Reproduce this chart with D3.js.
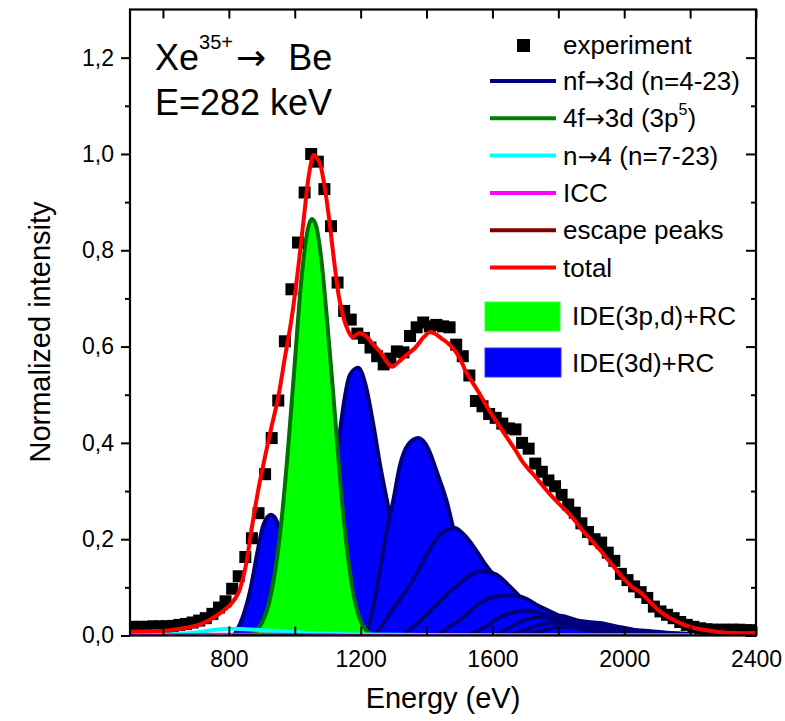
<!DOCTYPE html>
<html>
<head>
<meta charset="utf-8">
<script src="https://cdn.jsdelivr.net/npm/d3@7"></script>
<style>
  html, body { margin: 0; padding: 0; background: #fff; }
  svg { display: block; font-family: "Liberation Sans", Arial, sans-serif; }
  .arrow { font-family: "DejaVu Sans", sans-serif; }
</style>
</head>
<body>
<svg id="chart" width="785" height="721"></svg>
<script>
// ---- measured spectrum (normalized) ----
const expEnergy = [510,530,550,570,590,610,630,650,670,690,710,730,750,770,790,810,830,850,870,890,
  910,930,950,970,990,1010,1030,1050,1070,1090,1110,1130,1150,1170,1190,1210,1230,1250,1270,1290,
  1310,1330,1350,1370,1390,1410,1430,1450,1470,1490,1510,1530,1550,1570,1590,1610,1630,1650,1670,1690,
  1710,1730,1750,1770,1790,1810,1830,1850,1870,1890,1910,1930,1950,1970,1990,2010,2030,2050,2070,2090,
  2110,2130,2150,2170,2190,2210,2230,2250,2270,2290,2310,2330,2350,2370,2390];
const expIntensity = [0.018,0.018,0.018,0.019,0.019,0.019,0.020,0.022,0.024,0.027,0.031,0.036,0.045,0.058,0.071,0.097,0.123,0.163,0.202,0.254,
  0.335,0.410,0.488,0.611,0.719,0.816,0.920,1.000,0.984,0.927,0.850,0.733,0.674,0.656,0.627,0.618,0.598,0.580,0.563,0.575,
  0.590,0.588,0.622,0.640,0.650,0.642,0.645,0.642,0.640,0.604,0.580,0.540,0.487,0.476,0.460,0.452,0.440,0.430,0.428,0.400,
  0.388,0.357,0.340,0.322,0.310,0.292,0.272,0.255,0.233,0.215,0.200,0.193,0.172,0.155,0.128,0.115,0.102,0.090,0.078,0.060,
  0.050,0.043,0.036,0.028,0.022,0.018,0.015,0.013,0.012,0.012,0.012,0.012,0.012,0.011,0.011];

// ---- total fitted spectrum ----
const totalFit = [[500,0.008],[560,0.009],[620,0.011],[680,0.017],[720,0.025],[760,0.040],[790,0.055],[810,0.068],
  [830,0.090],[850,0.140],[870,0.225],[890,0.305],[910,0.372],[930,0.435],[950,0.495],[970,0.577],[990,0.656],
  [1010,0.760],[1030,0.882],[1045,0.965],[1058,0.998],[1075,0.982],[1090,0.935],[1105,0.862],[1120,0.775],
  [1135,0.700],[1155,0.645],[1175,0.620],[1195,0.628],[1215,0.622],[1240,0.603],[1260,0.588],[1280,0.568],
  [1295,0.558],[1315,0.568],[1340,0.583],[1365,0.597],[1392,0.620],[1410,0.630],[1425,0.627],[1445,0.617],
  [1465,0.607],[1485,0.593],[1505,0.570],[1520,0.547],[1540,0.525],[1560,0.503],[1590,0.468],[1620,0.436],
  [1650,0.405],[1670,0.385],[1690,0.362],[1710,0.345],[1730,0.330],[1750,0.313],[1775,0.293],[1800,0.275],
  [1835,0.251],[1860,0.230],[1876,0.216],[1900,0.198],[1926,0.178],[1950,0.158],[1975,0.137],[2000,0.117],
  [2025,0.100],[2050,0.089],[2075,0.072],[2100,0.055],[2125,0.042],[2150,0.032],[2175,0.024],[2200,0.018],
  [2240,0.012],[2280,0.008],[2340,0.005],[2400,0.005]];

// ---- 4f->3d (3p^5) component, IDE(3p,d)+RC ----
const peak4f3d = [[860,0.000],[880,0.008],[900,0.026],[920,0.062],[940,0.132],[960,0.240],[980,0.390],[1000,0.565],
  [1020,0.738],[1040,0.845],[1052,0.865],[1065,0.850],[1080,0.785],[1100,0.640],[1120,0.475],[1140,0.305],
  [1160,0.172],[1180,0.080],[1200,0.030],[1220,0.008],[1240,0.000]];

// ---- nf->3d components, IDE(3d)+RC ----
const highNTail = [[1600,0.000],[1700,0.022],[1760,0.042],[1805,0.042],[1866,0.031],[1926,0.027],[1977,0.020],
  [2028,0.013],[2080,0.010],[2129,0.007],[2180,0.005],[2230,0.003],[2300,0.001],[2400,0.000]];
const peakA = [[815,0.000],[833,0.022],[850,0.055],[864,0.091],[889,0.181],[905,0.230],[928,0.251],[950,0.230],
  [970,0.175],[990,0.110],[1010,0.055],[1030,0.020],[1050,0.000]];
const peakB = [[1040,0.000],[1060,0.020],[1080,0.070],[1100,0.160],[1115,0.265],[1132,0.390],[1147,0.473],
  [1168,0.542],[1193,0.556],[1215,0.520],[1238,0.440],[1260,0.350],[1280,0.280],[1300,0.210],[1320,0.140],
  [1340,0.085],[1360,0.045],[1380,0.020],[1400,0.005],[1420,0.000]];
const peakC = [[1200,0.000],[1218,0.008],[1249,0.098],[1279,0.216],[1299,0.280],[1319,0.352],[1345,0.397],
  [1375,0.410],[1405,0.388],[1431,0.340],[1461,0.279],[1481,0.223],[1500,0.170],[1520,0.120],[1540,0.080],
  [1560,0.050],[1580,0.030],[1600,0.015],[1620,0.005],[1640,0.000]];
const peakD = [[1240,0.000],[1270,0.025],[1299,0.057],[1325,0.080],[1350,0.105],[1375,0.135],[1400,0.168],
  [1420,0.190],[1441,0.209],[1465,0.220],[1486,0.223],[1510,0.212],[1532,0.195],[1552,0.175],[1572,0.154],
  [1598,0.130],[1620,0.108],[1640,0.085],[1660,0.060],[1680,0.040],[1700,0.025],[1720,0.012],[1740,0.004],[1760,0.000]];
const peakE = [[1330,0.000],[1400,0.043],[1471,0.091],[1522,0.119],[1557,0.133],[1585,0.132],[1613,0.126],
  [1648,0.105],[1673,0.088],[1700,0.068],[1730,0.048],[1760,0.030],[1800,0.012],[1840,0.000]];
const peakF = [[1430,0.000],[1502,0.033],[1582,0.075],[1643,0.083],[1683,0.081],[1744,0.060],[1805,0.040],
  [1850,0.025],[1900,0.012],[1950,0.000]];
const peakG = [[1522,0.000],[1570,0.015],[1623,0.038],[1665,0.048],[1704,0.052],[1764,0.042],[1820,0.028],
  [1880,0.015],[1950,0.005],[2000,0.000]];
const peakH = [[1603,0.000],[1650,0.015],[1694,0.031],[1744,0.038],[1790,0.033],[1850,0.020],[1920,0.008],[2000,0.000]];
const peakI = [[1650,0.000],[1700,0.012],[1745,0.022],[1780,0.027],[1830,0.022],[1900,0.010],[1980,0.000]];
const peakJ = [[1690,0.000],[1740,0.008],[1790,0.016],[1830,0.018],[1880,0.012],[1950,0.004],[2000,0.000]];

// ---- small background components ----
const nTo4 = [[500,0.001],[600,0.002],[700,0.006],[760,0.012],[800,0.014],[850,0.013],[900,0.011],[950,0.009],
  [1000,0.007],[1100,0.004],[1200,0.002],[1400,0.001],[2400,0.000]];
const iccLine = [[500,0.002],[650,0.003],[750,0.004],[850,0.004],[950,0.004],[1050,0.003],[1150,0.002],[1300,0.001],[2400,0.000]];
const escapePeaks = [[500,0.000],[900,0.000],[1000,0.001],[1100,0.002],[1200,0.001],[1300,0.000],[2400,0.000]];

// ---- axes ----
const xMajorTicks = [800,1200,1600,2000,2400];
const xMinorTicks = [600,1000,1400,1800,2200];
const yMajorTicks = [0,0.2,0.4,0.6,0.8,1.0,1.2];
const yMinorTicks = [0.1,0.3,0.5,0.7,0.9,1.1];

// legend rows: [before arrow, after arrow] text pieces
const legendItems = [
  {pre: "nf", post: "3d (n=4-23)", color: "#000080"},
  {pre: "4f", post: "3d (3p", sup: "5", tail: ")", color: "#008000"},
  {pre: "n", post: "4 (n=7-23)", color: "#00ffff"},
  {pre: "ICC", color: "#ff00ff"},
  {pre: "escape peaks", color: "#800000"},
  {pre: "total", color: "#ff0000"}
];

const svg = d3.select("#chart");
const L = 130, R = 756, T = 9.5, B = 635.5;
const x = d3.scaleLinear().domain([500, 2400]).range([L, R]);
const y = d3.scaleLinear().domain([0, 1.3]).range([B, T]);

svg.append("defs").append("clipPath").attr("id", "plotClip")
  .append("rect").attr("x", L).attr("y", T).attr("width", R - L).attr("height", B - T);
const plot = svg.append("g").attr("clip-path", "url(#plotClip)");

const area = d3.area().x(d => x(d[0])).y0(y(0)).y1(d => y(d[1])).curve(d3.curveMonotoneX);
const line = d3.line().x(d => x(d[0])).y(d => y(d[1])).curve(d3.curveMonotoneX);
const smooth = d3.line().x(d => x(d[0])).y(d => y(d[1])).curve(d3.curveCatmullRom.alpha(0.5));

// nf->3d: high-n convergence tail first, then individual peaks, later ones on top
plot.append("path").datum(highNTail).attr("d", area)
  .attr("fill", "#00007a").attr("stroke", "#000080").attr("stroke-width", 3);
[peakA, peakB, peakC, peakD, peakE, peakF, peakG, peakH, peakI, peakJ].forEach(pk => {
  plot.append("path").datum(pk).attr("d", area)
    .attr("fill", "#0000ff").attr("stroke", "#00007a").attr("stroke-width", 4)
    .attr("stroke-linejoin", "round");
});

// 4f->3d peak
plot.append("path").datum(peak4f3d).attr("d", area)
  .attr("fill", "#00ff00").attr("stroke", "#007000").attr("stroke-width", 4);

// background lines
plot.append("path").datum(nTo4).attr("d", line)
  .attr("fill", "none").attr("stroke", "#00ffff").attr("stroke-width", 4);
plot.append("path").datum(escapePeaks).attr("d", line)
  .attr("fill", "none").attr("stroke", "#800000").attr("stroke-width", 1.5);
plot.append("path").datum(iccLine).attr("d", line)
  .attr("fill", "none").attr("stroke", "#ff00ff").attr("stroke-width", 1.5);

// experimental points
const sq = 12;
plot.append("g").selectAll("rect").data(expEnergy).join("rect")
  .attr("x", (d) => x(d) - sq / 2)
  .attr("y", (d, i) => y(expIntensity[i]) - sq / 2)
  .attr("width", sq).attr("height", sq).attr("fill", "#000");

// total fit
plot.append("path").datum(totalFit).attr("d", smooth)
  .attr("fill", "none").attr("stroke", "#ff0000").attr("stroke-width", 4)
  .attr("stroke-linejoin", "round");

// ---- frame and ticks ----
const fmt = d => d3.format(".1f")(d).replace(".", ",");
const axisStyle = g => {
  g.select(".domain").remove();
  g.selectAll(".tick line").attr("stroke", "#000").attr("stroke-width", 2);
  g.selectAll(".tick text").attr("font-size", 23).attr("fill", "#000")
    .attr("font-family", "'Liberation Sans', Arial, sans-serif");
};

// left axis: outward ticks, labelled
svg.append("g").attr("transform", `translate(${L},0)`)
  .call(d3.axisLeft(y).tickValues(yMajorTicks).tickSize(9).tickPadding(7).tickFormat(fmt))
  .call(axisStyle);
svg.append("g").attr("transform", `translate(${L},0)`)
  .call(d3.axisLeft(y).tickValues(yMinorTicks).tickSize(5).tickFormat(""))
  .call(axisStyle);
// right axis: inward ticks
svg.append("g").attr("transform", `translate(${R},0)`)
  .call(d3.axisLeft(y).tickValues(yMajorTicks).tickSize(10).tickFormat(""))
  .call(axisStyle);
svg.append("g").attr("transform", `translate(${R},0)`)
  .call(d3.axisLeft(y).tickValues(yMinorTicks).tickSize(5).tickFormat(""))
  .call(axisStyle);
// top axis: inward ticks
svg.append("g").attr("transform", `translate(0,${T})`)
  .call(d3.axisBottom(x).tickValues(xMajorTicks.concat(xMinorTicks)).tickSize(9).tickFormat(""))
  .call(axisStyle);
// bottom axis: inward ticks with labels below
svg.append("g").attr("transform", `translate(0,${B})`)
  .call(d3.axisTop(x).tickValues(xMajorTicks.concat(xMinorTicks)).tickSize(9).tickFormat(""))
  .call(axisStyle);
svg.append("g").attr("transform", `translate(0,${B})`)
  .call(d3.axisBottom(x).tickValues(xMajorTicks).tickSize(0).tickPadding(15).tickFormat(d3.format("d")))
  .call(axisStyle);

svg.append("rect").attr("x", L).attr("y", T).attr("width", R - L).attr("height", B - T)
  .attr("fill", "none").attr("stroke", "#000").attr("stroke-width", 2.2);

// axis titles
svg.append("text").attr("x", 443).attr("y", 708).attr("text-anchor", "middle")
  .attr("font-size", 29).text("Energy (eV)");
svg.append("text").attr("transform", "translate(50,332) rotate(-90)").attr("text-anchor", "middle")
  .attr("font-size", 29).text("Normalized intensity");

// annotation
const ann = svg.append("text").attr("x", 155).attr("y", 70).attr("font-size", 36);
ann.append("tspan").text("Xe");
ann.append("tspan").attr("font-size", 20).attr("dy", -21).text("35+");
ann.append("tspan").attr("class", "arrow").attr("dy", 21).attr("dx", 3).text("→");
ann.append("tspan").attr("dx", 22).text("Be");
svg.append("text").attr("x", 155).attr("y", 115).attr("font-size", 36).text("E=282 keV");

// ---- legend ----
const lg = svg.append("g").attr("font-size", 26);
lg.append("rect").attr("x", 517).attr("y", 39).attr("width", 13).attr("height", 13).attr("fill", "#000");
lg.append("text").attr("x", 563).attr("y", 54).text("experiment");
legendItems.forEach((it, i) => {
  const cy = 81 + i * 37.3;
  lg.append("line").attr("x1", 490).attr("x2", 556).attr("y1", cy).attr("y2", cy)
    .attr("stroke", it.color).attr("stroke-width", 4);
  const t = lg.append("text").attr("x", 563).attr("y", cy + 9);
  t.append("tspan").text(it.pre);
  if (it.post) {
    t.append("tspan").attr("class", "arrow").attr("font-size", 24).text("→");
    t.append("tspan").text(it.post);
  }
  if (it.sup) {
    t.append("tspan").attr("font-size", 16).attr("dy", -12).text(it.sup);
    t.append("tspan").attr("dy", 12).text(it.tail);
  }
});
lg.append("rect").attr("x", 485).attr("y", 302).attr("width", 75).attr("height", 29)
  .attr("fill", "#00ff00").attr("stroke", "#33ff33").attr("stroke-width", 1);
lg.append("text").attr("x", 572).attr("y", 325).text("IDE(3p,d)+RC");
lg.append("rect").attr("x", 485).attr("y", 348).attr("width", 76).attr("height", 29)
  .attr("fill", "#0000ff").attr("stroke", "#3333ff").attr("stroke-width", 1);
lg.append("text").attr("x", 572).attr("y", 372).text("IDE(3d)+RC");
</script>
</body>
</html>
